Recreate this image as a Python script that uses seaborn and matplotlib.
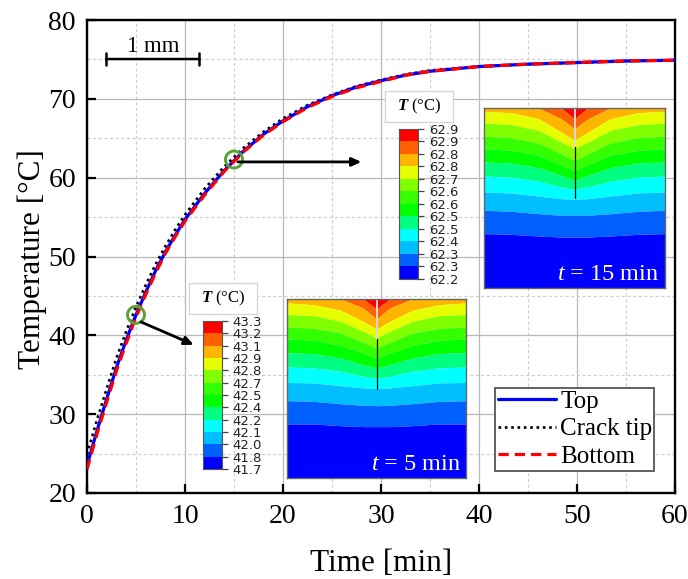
import matplotlib
matplotlib.use("Agg")
import matplotlib.pyplot as plt
import seaborn as sns

W, H = 688, 579
sns.set_style("white")
plt.rcParams["font.family"] = ["Liberation Serif", "DejaVu Sans"]
plt.rcParams["mathtext.fontset"] = "custom"
plt.rcParams["mathtext.rm"] = "Liberation Serif"
plt.rcParams["mathtext.it"] = "Liberation Serif:italic"
plt.rcParams["mathtext.bf"] = "Liberation Serif:italic:bold"
plt.rcParams["text.color"] = "black"
plt.rcParams["axes.labelcolor"] = "black"
plt.rcParams["xtick.color"] = "black"
plt.rcParams["ytick.color"] = "black"

time_min = [0, 1, 2, 3, 4, 5, 6, 7, 8, 9, 10, 12, 14, 16, 18, 20, 22.5, 25, 27.5, 30, 32.5, 35, 40, 45, 50, 55, 60]
temp_top = [23.5, 27.8, 31.9, 35.9, 39.4, 42.6, 45.5, 48.2, 50.6, 52.7, 54.7, 58.0, 60.9, 63.4, 65.5, 67.2,
            69.0, 70.4, 71.5, 72.3, 73.0, 73.5, 74.1, 74.4, 74.6, 74.8, 74.9]
temp_tip = [24.9, 29.2, 33.2, 37.1, 40.5, 43.6, 46.4, 49.0, 51.3, 53.4, 55.3, 58.6, 61.4, 63.8, 65.8, 67.5,
            69.2, 70.5, 71.6, 72.4, 73.1, 73.6, 74.1, 74.4, 74.6, 74.8, 74.9]
temp_bottom = [23.0, 27.4, 31.5, 35.5, 39.0, 42.3, 45.2, 47.9, 50.4, 52.5, 54.5, 57.8, 60.8, 63.3, 65.4, 67.1,
               68.9, 70.3, 71.4, 72.2, 73.0, 73.5, 74.1, 74.4, 74.6, 74.8, 74.9]

marked_time = [5, 15]
marked_temp = [42.6, 62.3]

band_colors = ["#0000ff", "#0060ff", "#00bfff", "#00ffff", "#00ff80", "#00ff00",
               "#33ff00", "#80ff00", "#e6ff00", "#ffb400", "#ff6000", "#ff0000"]
labels_5 = ["41.7", "41.8", "42.0", "42.1", "42.2", "42.4", "42.5", "42.7", "42.8", "42.9", "43.1", "43.2", "43.3"]
labels_15 = ["62.2", "62.3", "62.3", "62.4", "62.5", "62.5", "62.6", "62.6", "62.7", "62.8", "62.8", "62.9", "62.9"]

# contour band boundaries: fraction of the half width from edge to crack, depth from the top
half_x = [0, 0.3, 0.6, 0.85, 1.0]
bounds_5 = [
    [0.698, 0.698, 0.708, 0.713, 0.713],
    [0.568, 0.572, 0.585, 0.594, 0.596],
    [0.466, 0.469, 0.484, 0.497, 0.501],
    [0.380, 0.385, 0.404, 0.432, 0.443],
    [0.300, 0.305, 0.330, 0.367, 0.385],
    [0.223, 0.231, 0.259, 0.302, 0.330],
    [0.156, 0.164, 0.190, 0.242, 0.274],
    [0.087, 0.093, 0.125, 0.181, 0.218],
    [0.022, 0.032, 0.063, 0.125, 0.168],
    [0.000, 0.000, 0.000, 0.050, 0.112],
    [0.000, 0.000, 0.000, 0.000, 0.056],
]
bounds_15 = [
    [0.698, 0.702, 0.711, 0.717, 0.717],
    [0.568, 0.574, 0.587, 0.596, 0.596],
    [0.467, 0.472, 0.489, 0.504, 0.507],
    [0.378, 0.385, 0.407, 0.439, 0.452],
    [0.300, 0.306, 0.331, 0.374, 0.402],
    [0.226, 0.235, 0.263, 0.315, 0.346],
    [0.156, 0.165, 0.194, 0.254, 0.291],
    [0.083, 0.093, 0.124, 0.189, 0.226],
    [0.019, 0.026, 0.059, 0.133, 0.180],
    [0.000, 0.000, 0.000, 0.059, 0.115],
    [0.000, 0.000, 0.000, 0.000, 0.059],
]

fig = plt.figure(figsize=(W / 100, H / 100), dpi=100)
fig.patch.set_facecolor("white")


def px_axes(x0, y0, x1, y1, **kw):
    return fig.add_axes([x0 / W, 1 - y1 / H, (x1 - x0) / W, (y1 - y0) / H], **kw)


ax = px_axes(87, 20, 675, 493)
ax.set_xlim(0, 60)
ax.set_ylim(20, 80)

sns.lineplot(x=time_min, y=temp_tip, ax=ax, color="black", lw=1.9, linestyle=(0, (1, 1.4)),
             label="Crack tip", zorder=3, errorbar=None)
sns.lineplot(x=time_min, y=temp_top, ax=ax, color="#0000ff", lw=2.3, label="Top", zorder=4, errorbar=None)
sns.lineplot(x=time_min, y=temp_bottom, ax=ax, color="#ff0000", lw=2.3, linestyle=(0, (3.2, 1.9)),
             label="Bottom", zorder=5, errorbar=None)
sns.scatterplot(x=marked_time, y=marked_temp, ax=ax, s=150, facecolors="none", edgecolor="#5aa332",
                linewidth=2.1, zorder=6)

ax.set_xticks(range(0, 61, 10))
ax.set_yticks(range(20, 81, 10))
ax.set_xticks(range(5, 60, 10), minor=True)
ax.set_yticks(range(25, 80, 10), minor=True)
ax.grid(True, which="major", color="#b8b8b8", lw=0.9)
ax.grid(True, which="minor", color="#cfcfcf", lw=0.9, ls=(0, (2.5, 2)))
ax.set_axisbelow(True)
ax.tick_params(which="major", direction="in", length=6.5, width=1.6, color="black",
               labelsize=20, bottom=True, left=True, pad=8)
ax.tick_params(which="minor", length=0)
for s in ax.spines.values():
    s.set_visible(True)
    s.set_color("black")
    s.set_linewidth(1.7)
ax.set_xlabel("Time [min]", fontsize=22.5, labelpad=14)
ax.set_ylabel("Temperature [°C]", fontsize=22.5, labelpad=1, y=0.494)

# scale bar
ax.annotate("", xy=(1.95, 75.05), xytext=(11.45, 75.05),
            arrowprops=dict(arrowstyle="|-|,widthA=0.4,widthB=0.4", lw=1.8, color="black", shrinkA=0, shrinkB=0))
ax.text(6.8, 75.25, "1 mm", fontsize=16.5, ha="center", va="bottom")

# arrows
ax.annotate("", xy=(10.9, 38.8), xytext=(5.5, 41.7),
            arrowprops=dict(arrowstyle="-|>,head_length=0.55,head_width=0.25", lw=2, color="black",
                            shrinkA=0, shrinkB=0), zorder=6)
ax.annotate("", xy=(28.0, 62.0), xytext=(15.4, 62.0),
            arrowprops=dict(arrowstyle="-|>,head_length=0.55,head_width=0.25", lw=2, color="black",
                            shrinkA=0, shrinkB=0), zorder=6)

handles, names = ax.get_legend_handles_labels()
order = [names.index(n) for n in ["Top", "Crack tip", "Bottom"]]
leg = ax.legend([handles[i] for i in order], [names[i] for i in order],
                loc="lower left", bbox_to_anchor=((495 - 87) / 588, (493 - 471) / 473,
                                                  159 / 588, 95 / 473),
                mode="expand", borderaxespad=0, borderpad=0.12, fontsize=18, fancybox=False,
                framealpha=1, edgecolor="#555555", handlelength=2.3, handletextpad=0.2,
                labelspacing=0.2)
leg.get_frame().set_linewidth(1.3)
leg.set_zorder(8)


def contour_inset(box, bounds, crack_gray, crack_end, label):
    a = px_axes(*box)
    xs = [v / 2 for v in half_x] + [1 - v / 2 for v in half_x[::-1]]
    tops = [[0.0] * len(xs)] + [b + b[::-1] for b in bounds[::-1]] + [[1.0] * len(xs)]
    for i, c in enumerate(band_colors[::-1]):
        a.fill_between(xs, tops[i], tops[i + 1], color=c, lw=0)
    a.set_xlim(0, 1)
    a.set_ylim(1, 0)
    a.set_xticks([])
    a.set_yticks([])
    a.plot([0.5, 0.5], [0, crack_gray], color="#d8d8d8", lw=1.4)
    a.plot([0.5, 0.5], [crack_gray, crack_end], color="black", lw=0.9)
    for s in a.spines.values():
        s.set_visible(True)
        s.set_color("#666666")
        s.set_linewidth(1)
    a.text(0.97, 0.015, label, color="white", fontsize=17.5, ha="right", va="bottom", transform=a.transAxes)
    return a


def colorbar_inset(box, labels):
    a = px_axes(*box)
    n = len(band_colors)
    sns.barplot(x=[1] * n, y=list(range(n)), orient="h", order=list(range(n)), palette=band_colors,
                hue=list(range(n)), legend=False, width=1.0, ax=a, linewidth=0, saturation=1)
    a.set_xlim(0, 1)
    a.set_ylim(-0.5, n - 0.5)
    a.set_xticks([])
    a.set_xlabel("")
    a.yaxis.tick_right()
    a.set_yticks([i - 0.5 for i in range(n + 1)])
    a.set_yticklabels(labels, fontsize=9.5, family="DejaVu Sans")
    a.tick_params(axis="y", right=True, left=False, length=4.4, width=0.9, color="#444444", pad=3.4,
                  labelcolor="#222222")
    for s in a.spines.values():
        s.set_visible(True)
        s.set_color("#555555")
        s.set_linewidth(0.8)
    a.patch.set_alpha(0)
    return a


def title_box(box):
    a = px_axes(*box)
    a.set_xticks([])
    a.set_yticks([])
    for s in a.spines.values():
        s.set_visible(True)
        s.set_color("#d4d4d4")
        s.set_linewidth(0.9)
    a.text(0.5, 0.5, r"$\mathbf{T}$ (°C)", fontsize=12, ha="center", va="center", transform=a.transAxes)


contour_inset((287, 299, 466, 478), bounds_5, 0.223, 0.50, r"$\mathit{t}$ = 5 min")
contour_inset((484, 108, 665, 288), bounds_15, 0.215, 0.50, r"$\mathit{t}$ = 15 min")
title_box((189, 283, 257, 314))
title_box((385, 91, 453, 122))
colorbar_inset((203, 321, 222, 469), labels_5)
colorbar_inset((399, 129, 418, 279), labels_15)

fig.savefig("out.png", dpi=100)
